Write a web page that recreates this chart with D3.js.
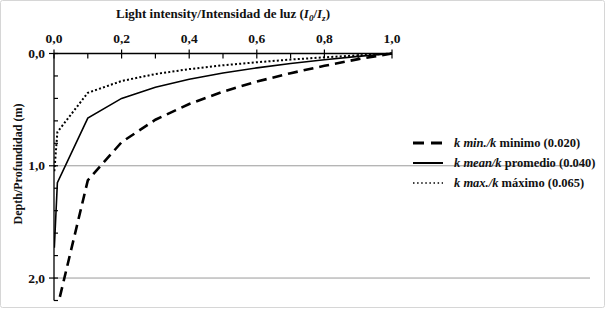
<!DOCTYPE html>
<html>
<head>
<meta charset="utf-8">
<script src="https://cdnjs.cloudflare.com/ajax/libs/d3/7.8.5/d3.min.js"></script>
<style>
  body { margin: 0; background: #fff; }
  svg text { font-family: "Liberation Serif", "Times New Roman", serif; font-weight: bold; fill: #111; }
</style>
</head>
<body>
<div id="chart"></div>
<script>
// Light intensity ratio levels (x) and depth (m) read for each k
const intensity = [1.0, 0.9, 0.8, 0.7, 0.6, 0.5, 0.4, 0.3, 0.2, 0.1, 0.01, 0.001];
const depthMin  = [0, 0.05, 0.11, 0.175, 0.25, 0.34, 0.45, 0.59, 0.79, 1.13, 2.26, 3.38];
const depthMean = [0, 0.026, 0.056, 0.089, 0.128, 0.173, 0.229, 0.30, 0.40, 0.575, 1.15, 1.73];
const depthMax  = [0, 0.016, 0.034, 0.054, 0.078, 0.105, 0.139, 0.183, 0.245, 0.35, 0.70, 1.05];

const seriesNames = ['min.', 'mean', 'max.'];
const seriesWords = ['minimo', 'promedio', 'máximo'];
const seriesK = ['0.020', '0.040', '0.065'];

const xTickLabels = ['0,0', '0,2', '0,4', '0,6', '0,8', '1,0'];
const yTickLabels = ['0,0', '1,0', '2,0'];

const width = 606, height = 310;

const svg = d3.select('#chart').append('svg')
    .attr('width', width)
    .attr('height', height);

// outer frame
svg.append('rect')
    .attr('x', 0.5).attr('y', 0.5)
    .attr('width', width - 2).attr('height', height - 3)
    .attr('rx', 2)
    .attr('fill', 'none')
    .attr('stroke', '#d6d6d6');

const xScale = d3.scaleLinear().domain([0, 1]).range([54, 392]);
const yScale = d3.scaleLinear().domain([0, 2.2]).range([53.5, 300.5]);

// clip so curves stop at the axis end
svg.append('clipPath').attr('id', 'plot-clip')
  .append('rect')
    .attr('x', xScale(0)).attr('y', yScale(0) - 3)
    .attr('width', xScale(1) - xScale(0) + 3)
    .attr('height', yScale(2.2) - yScale(0) + 3);

// gridlines at 1 and 2 m
svg.selectAll('.grid')
    .data([1, 2])
    .enter()
    .append('line')
    .attr('x1', xScale(0)).attr('x2', 590)
    .attr('y1', d => yScale(d)).attr('y2', d => yScale(d))
    .attr('stroke', '#9a9a9a')
    .attr('stroke-width', 1);

// x axis on top
const xAxis = svg.append('g')
    .attr('transform', `translate(0,${yScale(0)})`);
xAxis.append('line')
    .attr('x1', xScale(0)).attr('x2', xScale(1))
    .attr('stroke', '#000').attr('stroke-width', 1.3);
xAxis.selectAll('.xt')
    .data(d3.range(0, 11).map(i => i / 10))
    .enter()
    .append('line')
    .attr('x1', d => xScale(d)).attr('x2', d => xScale(d))
    .attr('y1', (d, i) => i % 2 === 0 ? -4 : 0)
    .attr('y2', 5)
    .attr('stroke', '#000').attr('stroke-width', 1.2);
xAxis.selectAll('.xl')
    .data(xTickLabels)
    .enter()
    .append('text')
    .attr('x', (d, i) => xScale(i * 0.2))
    .attr('y', -11)
    .attr('text-anchor', 'middle')
    .style('font-size', '13.5px')
    .text(d => d);

// y axis on left
const yAxis = svg.append('g')
    .attr('transform', `translate(${xScale(0)},0)`);
yAxis.append('line')
    .attr('y1', yScale(0)).attr('y2', yScale(2.2))
    .attr('stroke', '#000').attr('stroke-width', 1.3);
yAxis.selectAll('.yt')
    .data(d3.range(0, 12).map(i => i / 5))
    .enter()
    .append('line')
    .attr('y1', d => yScale(d)).attr('y2', d => yScale(d))
    .attr('x1', (d, i) => i % 5 === 0 ? -5 : 0)
    .attr('x2', 4)
    .attr('stroke', '#000').attr('stroke-width', 1.2);
yAxis.selectAll('.yl')
    .data(yTickLabels)
    .enter()
    .append('text')
    .attr('x', -9)
    .attr('y', (d, i) => yScale(i) + 4.5)
    .attr('text-anchor', 'end')
    .style('font-size', '13.5px')
    .text(d => d);

// title
const title = svg.append('text')
    .attr('x', (xScale(0) + xScale(1)) / 2)
    .attr('y', 18)
    .attr('text-anchor', 'middle')
    .style('font-size', '13px');
title.append('tspan').text('Light intensity/Intensidad de luz (');
title.append('tspan').style('font-style', 'italic').text('I');
title.append('tspan').style('font-style', 'italic').style('font-size', '9px').attr('dy', 3).text('0');
title.append('tspan').attr('dy', -3).text('/');
title.append('tspan').style('font-style', 'italic').text('I');
title.append('tspan').style('font-style', 'italic').style('font-size', '9px').attr('dy', 3).text('z');
title.append('tspan').attr('dy', -3).text(')');

// y label
svg.append('text')
    .attr('transform', 'rotate(-90)')
    .attr('x', -164)
    .attr('y', 22)
    .attr('text-anchor', 'middle')
    .style('font-size', '12px')
    .text('Depth/Profundidad (m)');

// curves
const styles = [
    { dash: '10,6', width: 2.6 },
    { dash: null, width: 1.6 },
    { dash: '2,2.2', width: 2 }
];
const depths = [depthMin, depthMean, depthMax];

const line = d3.line()
    .x(d => xScale(d[0]))
    .y(d => yScale(d[1]));

const curves = svg.append('g').attr('clip-path', 'url(#plot-clip)');
depths.forEach((dep, s) => {
    curves.append('path')
        .datum(intensity.map((v, i) => [v, dep[i]]))
        .attr('d', line)
        .attr('fill', 'none')
        .attr('stroke', '#000')
        .attr('stroke-width', styles[s].width)
        .attr('stroke-dasharray', styles[s].dash);
});

// legend
const legendY = [143, 163, 183];
const legendDash = ['11,7', null, '1.5,2.6'];
const legendWidth = [2.8, 2, 1.4];
const legend = svg.append('g');
seriesNames.forEach((name, i) => {
    legend.append('line')
        .attr('x1', 413).attr('x2', 443)
        .attr('y1', legendY[i]).attr('y2', legendY[i])
        .attr('stroke', '#000')
        .attr('stroke-width', legendWidth[i])
        .attr('stroke-dasharray', legendDash[i]);
    const t = legend.append('text')
        .attr('x', 454)
        .attr('y', legendY[i] + 4)
        .style('font-size', '12.5px');
    t.append('tspan').style('font-style', 'italic').text(`k ${name}/k`);
    t.append('tspan').text(` ${seriesWords[i]} (${seriesK[i]})`);
});
</script>
</body>
</html>
